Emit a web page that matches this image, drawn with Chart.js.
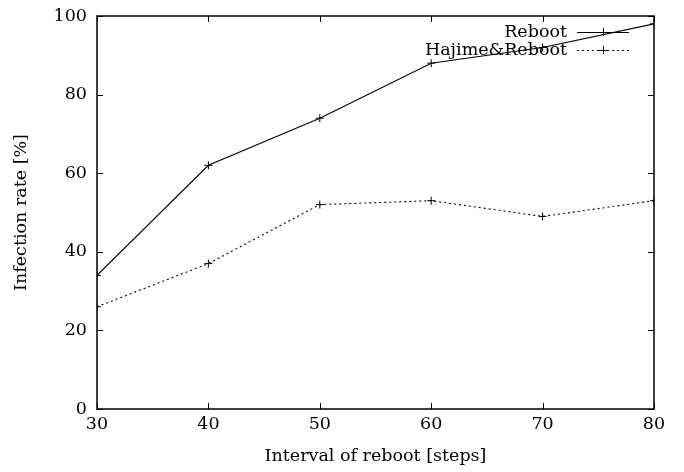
<!DOCTYPE html>
<html><head><meta charset="utf-8">
<script src="https://cdn.jsdelivr.net/npm/chart.js@4"></script>
<style>html,body{margin:0;padding:0;background:#fff}#w{width:684px;height:472px}</style>
</head><body><div id="w"><canvas id="c" width="684" height="472"></canvas></div>
<script>
const intervals = [30, 40, 50, 60, 70, 80];
const reboot = [34, 62, 74, 88, 92, 98];
const hajimeReboot = [26, 37, 52, 53, 49, 53];
const seriesNames = ['Reboot', 'Hajime&Reboot'];
const xTitle = 'Interval of reboot [steps]';
const yTitle = 'Infection rate [%]';
const FONT = '"DejaVu Serif", serif';
const FS = 17.5;

const inwardTicks = {
  id: 'inwardTicks',
  afterDatasetsDraw(chart) {
    const {ctx, chartArea: a, scales: {x, y}} = chart;
    ctx.save();
    ctx.strokeStyle = '#000';
    ctx.lineWidth = 1;
    ctx.beginPath();
    x.ticks.forEach(t => {
      const px = Math.round(x.getPixelForValue(t.value)) + 0.5;
      ctx.moveTo(px, a.bottom); ctx.lineTo(px, a.bottom - 6);
      ctx.moveTo(px, a.top); ctx.lineTo(px, a.top + 6);
    });
    y.ticks.forEach(t => {
      const py = Math.round(y.getPixelForValue(t.value)) + 0.5;
      ctx.moveTo(a.left, py); ctx.lineTo(a.left + 6, py);
      ctx.moveTo(a.right, py); ctx.lineTo(a.right - 6, py);
    });
    ctx.stroke();
    ctx.lineWidth = 1.5;
    ctx.strokeRect(a.left, a.top, a.right - a.left, a.bottom - a.top);
    // legend
    ctx.font = FS + 'px ' + FONT;
    ctx.fillStyle = '#000';
    ctx.textAlign = 'right';
    ctx.textBaseline = 'middle';
    const rows = [{name: seriesNames[0], dash: [], yy: a.top + 16},
                  {name: seriesNames[1], dash: [2, 3], yy: a.top + 34}];
    rows.forEach(r => {
      ctx.fillText(r.name, a.right - 87, r.yy);
      ctx.setLineDash(r.dash);
      ctx.lineWidth = 1;
      ctx.beginPath();
      ctx.moveTo(a.right - 77, r.yy + 0.5); ctx.lineTo(a.right - 25, r.yy + 0.5);
      ctx.stroke();
      ctx.setLineDash([]);
      const cx = a.right - 51;
      ctx.beginPath();
      ctx.moveTo(cx - 4, r.yy + 0.5); ctx.lineTo(cx + 4, r.yy + 0.5);
      ctx.moveTo(cx + 0.5, r.yy - 4); ctx.lineTo(cx + 0.5, r.yy + 4);
      ctx.stroke();
    });
    ctx.restore();
  }
};

new Chart(document.getElementById('c'), {
  type: 'line',
  data: {
    datasets: [
      {label: seriesNames[0], data: intervals.map((v, i) => ({x: v, y: reboot[i]})),
       borderColor: '#000', borderWidth: 1.1, pointStyle: 'cross', pointRadius: 4,
       pointBorderColor: '#000', pointBorderWidth: 1, tension: 0},
      {label: seriesNames[1], data: intervals.map((v, i) => ({x: v, y: hajimeReboot[i]})),
       borderColor: '#000', borderWidth: 1.1, borderDash: [2, 3], pointStyle: 'cross', pointRadius: 4,
       pointBorderColor: '#000', pointBorderWidth: 1, tension: 0}
    ]
  },
  options: {
    responsive: false, animation: false, devicePixelRatio: 1,
    layout: {padding: {top: 16, right: 30, left: 0, bottom: 0}},
    plugins: {legend: {display: false}, tooltip: {enabled: false}},
    scales: {
      x: {type: 'linear', min: 30, max: 80,
          ticks: {stepSize: 10, color: '#000', font: {family: FONT, size: FS}, padding: 5, maxRotation: 0},
          grid: {display: false, drawTicks: false}, border: {display: false},
          title: {display: true, text: xTitle, color: '#000', font: {family: FONT, size: FS}, padding: {top: 0, bottom: 5}},
          afterFit(s) { s.height = 63; s.paddingLeft = 0; s.paddingRight = 0; }},
      y: {min: 0, max: 100,
          ticks: {stepSize: 20, color: '#000', font: {family: FONT, size: FS}, padding: 10},
          grid: {display: false, drawTicks: false}, border: {display: false},
          title: {display: true, text: yTitle, color: '#000', font: {family: FONT, size: FS}, padding: {top: 11, bottom: 0}},
          afterFit(s) { s.width = 97; s.paddingTop = 0; s.paddingBottom = 0; }}
    }
  },
  plugins: [inwardTicks]
});
</script></body></html>
